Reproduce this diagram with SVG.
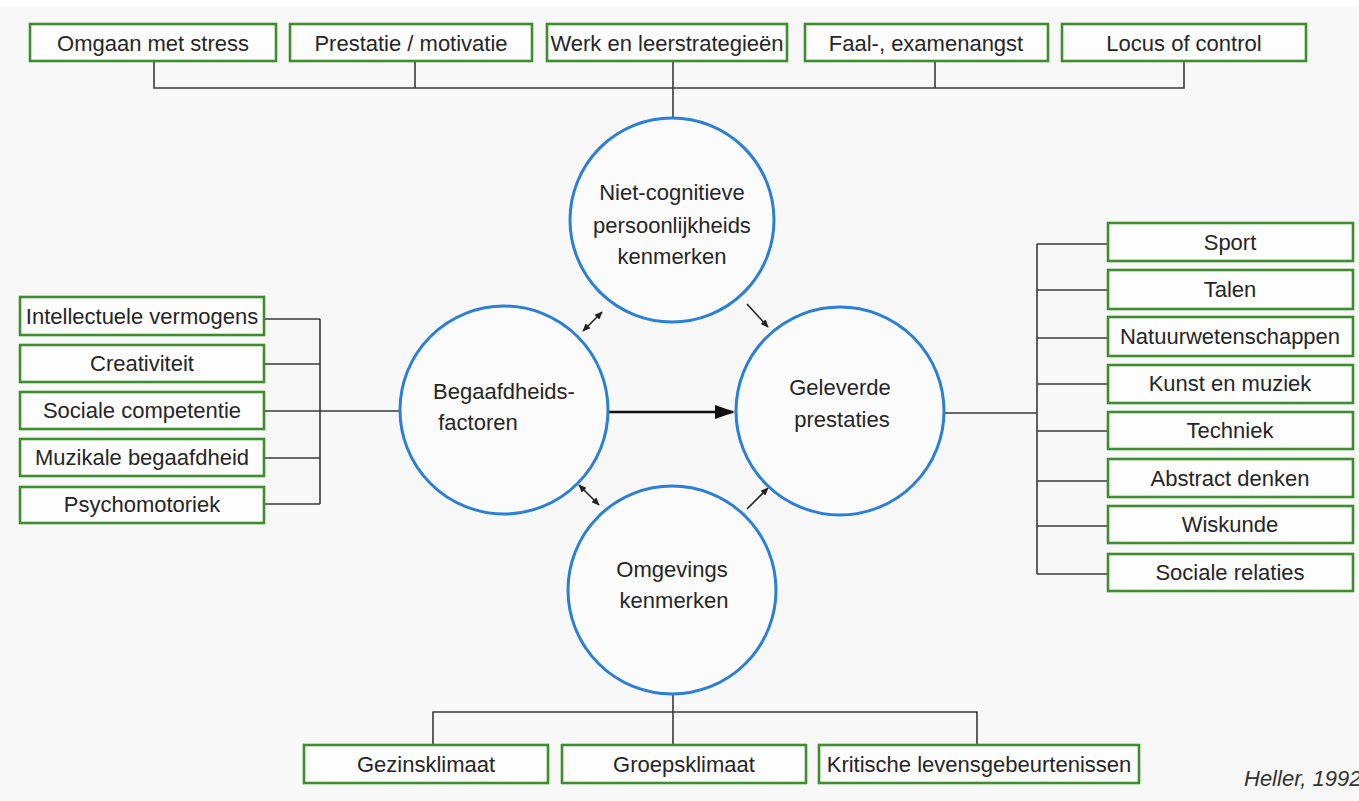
<svg xmlns="http://www.w3.org/2000/svg" width="1359" height="801" viewBox="0 0 1359 801">
<style>
.box{fill:#fdfdfd;stroke:#3f8e2e;stroke-width:2.6}
.circ{fill:#fbfbfb;stroke:#2b7fd6;stroke-width:3}
.t{font-family:"Liberation Sans",Arial,sans-serif;font-size:22px;fill:#262626;text-anchor:middle}
.ln{stroke:#3a3a3a;stroke-width:1.6;fill:none}
.ar{stroke:#222;stroke-width:1.6;fill:none}
</style>
<defs>
<marker id="ah" viewBox="0 0 10 10" refX="9" refY="5" markerWidth="8" markerHeight="7" orient="auto-start-reverse" markerUnits="userSpaceOnUse" preserveAspectRatio="none"><path d="M0,0 L10,5 L0,10 z" fill="#222"/></marker>
<marker id="ahbig" viewBox="0 0 10 10" refX="9" refY="5" markerWidth="20" markerHeight="14" orient="auto" markerUnits="userSpaceOnUse" preserveAspectRatio="none"><path d="M0,0 L10,5 L0,10 z" fill="#111"/></marker>
</defs>
<rect x="0" y="0" width="1359" height="801" fill="#ffffff"/>
<rect x="0" y="7" width="1359" height="794" fill="#f8f8f8"/>

<g id="connectors">
<path class="ln" d="M154,61 V88 H1184 V61 M415,61 V88 M935,61 V88 M673,61 V118"/>
<path class="ln" d="M264,319 H320 M264,364 H320 M264,411 H401 M264,458 H320 M264,504 H320 M320,319 V504"/>
<path class="ln" d="M944,413 H1037 M1037,244 V574 M1037,244 H1108 M1037,290 H1108 M1037,338 H1108 M1037,384 H1108 M1037,431 H1108 M1037,481 H1108 M1037,526 H1108 M1037,574 H1108"/>
<path class="ln" d="M673,695 V745 M433,745 V712 H977 V745"/>
<line x1="609" y1="412" x2="733" y2="412" stroke="#111" stroke-width="2.6" marker-end="url(#ahbig)"/>
<line class="ar" x1="583" y1="331" x2="602" y2="312" marker-start="url(#ah)" marker-end="url(#ah)"/>
<line class="ar" x1="747" y1="304" x2="768" y2="327" marker-end="url(#ah)"/>
<line class="ar" x1="579" y1="485" x2="599" y2="505" marker-start="url(#ah)" marker-end="url(#ah)"/>
<line class="ar" x1="747" y1="509" x2="768" y2="488" marker-end="url(#ah)"/>
</g>

<g id="top-boxes">
<g id="n-stress"><rect class="box" x="30" y="24" width="246" height="37"/><text class="t" x="153" y="51">Omgaan met stress</text></g>
<g id="n-prestatie"><rect class="box" x="290" y="24" width="242" height="37"/><text class="t" x="411" y="51">Prestatie / motivatie</text></g>
<g id="n-werk"><rect class="box" x="547" y="24" width="240" height="37"/><text class="t" x="667" y="51">Werk en leerstrategieën</text></g>
<g id="n-faal"><rect class="box" x="805" y="24" width="243" height="37"/><text class="t" x="926" y="51">Faal-, examenangst</text></g>
<g id="n-locus"><rect class="box" x="1062" y="24" width="244" height="37"/><text class="t" x="1184" y="51">Locus of control</text></g>
</g>

<g id="left-boxes">
<g id="n-intel"><rect class="box" x="20" y="297" width="244" height="38"/><text class="t" x="142" y="324">Intellectuele vermogens</text></g>
<g id="n-creat"><rect class="box" x="20" y="345" width="244" height="37"/><text class="t" x="142" y="371">Creativiteit</text></g>
<g id="n-sociaal"><rect class="box" x="20" y="392" width="244" height="37"/><text class="t" x="142" y="418">Sociale competentie</text></g>
<g id="n-muz"><rect class="box" x="20" y="439" width="244" height="37"/><text class="t" x="142" y="465">Muzikale begaafdheid</text></g>
<g id="n-psycho"><rect class="box" x="20" y="487" width="244" height="36"/><text class="t" x="142" y="512">Psychomotoriek</text></g>
</g>

<g id="right-boxes">
<g id="n-sport"><rect class="box" x="1108" y="223" width="245" height="38"/><text class="t" x="1230" y="250">Sport</text></g>
<g id="n-talen"><rect class="box" x="1108" y="270" width="245" height="39"/><text class="t" x="1230" y="297">Talen</text></g>
<g id="n-natuur"><rect class="box" x="1108" y="317" width="245" height="39"/><text class="t" x="1230" y="344">Natuurwetenschappen</text></g>
<g id="n-kunst"><rect class="box" x="1108" y="365" width="245" height="38"/><text class="t" x="1230" y="391">Kunst en muziek</text></g>
<g id="n-techniek"><rect class="box" x="1108" y="412" width="245" height="37"/><text class="t" x="1230" y="438">Techniek</text></g>
<g id="n-abstract"><rect class="box" x="1108" y="459" width="245" height="38"/><text class="t" x="1230" y="486">Abstract denken</text></g>
<g id="n-wiskunde"><rect class="box" x="1108" y="506" width="245" height="37"/><text class="t" x="1230" y="532">Wiskunde</text></g>
<g id="n-relaties"><rect class="box" x="1108" y="554" width="245" height="37"/><text class="t" x="1230" y="580">Sociale relaties</text></g>
</g>

<g id="bottom-boxes">
<g id="n-gezin"><rect class="box" x="304" y="745" width="244" height="38"/><text class="t" x="426" y="772">Gezinsklimaat</text></g>
<g id="n-groep"><rect class="box" x="562" y="745" width="244" height="38"/><text class="t" x="684" y="772">Groepsklimaat</text></g>
<g id="n-kritisch"><rect class="box" x="819" y="745" width="320" height="38"/><text class="t" x="979" y="772">Kritische levensgebeurtenissen</text></g>
</g>

<g id="c-top"><circle class="circ" cx="672" cy="220" r="102"/><text class="t" x="672" y="200">Niet-cognitieve</text><text class="t" x="672" y="233">persoonlijkheids</text><text class="t" x="672" y="264">kenmerken</text></g>
<g id="c-left"><circle class="circ" cx="504" cy="410" r="104"/><text class="t" x="504" y="399">Begaafdheids-</text><text class="t" x="478" y="430">factoren</text></g>
<g id="c-right"><circle class="circ" cx="840" cy="411" r="104"/><text class="t" x="840" y="395">Geleverde</text><text class="t" x="842" y="427">prestaties</text></g>
<g id="c-bottom"><circle class="circ" cx="672" cy="590" r="104"/><text class="t" x="672" y="577">Omgevings</text><text class="t" x="674" y="608">kenmerken</text></g>

<text x="1244" y="786" style="font-family:'Liberation Sans',Arial,sans-serif;font-size:22px;font-style:italic;fill:#333">Heller, 1992</text>
</svg>
